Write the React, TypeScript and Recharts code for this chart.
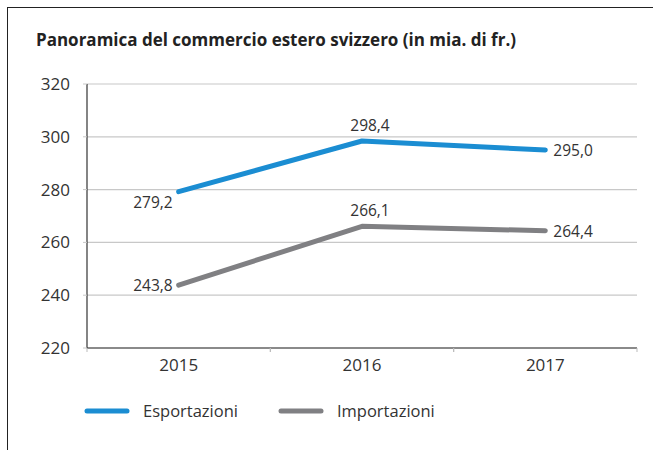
import React from 'react';
import {
  LineChart,
  Line,
  XAxis,
  YAxis,
  CartesianGrid,
  Legend,
  LabelList,
} from 'recharts';

const years = ['2015', '2016', '2017'];
const esportazioni = [279.2, 298.4, 295.0];
const importazioni = [243.8, 266.1, 264.4];
const yTicks = [220, 240, 260, 280, 300, 320];

const BLUE = '#1b8dd2';
const GRAY = '#808083';
const FONT = '"Open Sans", "Noto Sans", sans-serif';

const W = 653;
const H = 450;
const PLOT_LEFT = 87;
const PLOT_RIGHT = 637;
const BAND = (PLOT_RIGHT - PLOT_LEFT) / years.length;

const chartData = years.map((y, i) => ({
  year: y,
  esp: esportazioni[i],
  imp: importazioni[i],
}));

const fmt = (v: number) => v.toFixed(1).replace('.', ',');

// label placement like the original: first point left, middle above, last right
function makeLabel(firstDy: number) {
  return (props: any) => {
    const { x, y, value, index } = props;
    let tx = x;
    let ty = y;
    let anchor: 'start' | 'middle' | 'end' = 'middle';
    if (index === 0) {
      tx = x - 6;
      ty = y + firstDy;
      anchor = 'end';
    } else if (index === years.length - 1) {
      tx = x + 8;
      anchor = 'start';
    } else {
      tx = x + 8;
      ty = y - 16;
    }
    return (
      <text
        x={tx}
        y={ty}
        textAnchor={anchor}
        dominantBaseline="central"
        fontSize={15.5}
        fontFamily={FONT}
        fill="#333"
      >
        {fmt(value)}
      </text>
    );
  };
}

const XTick = (props: any) => {
  const { x, y, payload } = props;
  return (
    <g>
      <line x1={x - BAND / 2} x2={x - BAND / 2} y1={y - 8} y2={y - 4} stroke="#bbb" />
      <line x1={x + BAND / 2} x2={x + BAND / 2} y1={y - 8} y2={y - 4} stroke="#bbb" />
      <text
        x={x}
        y={y + 8}
        textAnchor="middle"
        dominantBaseline="central"
        fontSize={17}
        fontFamily={FONT}
        fill="#333"
      >
        {payload.value}
      </text>
    </g>
  );
};

const LegendContent = () => (
  <div style={{ display: 'flex', alignItems: 'center', fontFamily: FONT, fontSize: 16.5, color: '#333' }}>
    {[
      { name: 'Esportazioni', color: BLUE },
      { name: 'Importazioni', color: GRAY },
    ].map((it) => (
      <div key={it.name} style={{ display: 'flex', alignItems: 'center', marginRight: 40 }}>
        <svg width={46} height={8} style={{ marginRight: 13 }}>
          <line x1={3} y1={4} x2={43} y2={4} stroke={it.color} strokeWidth={5} strokeLinecap="round" />
        </svg>
        <span>{it.name}</span>
      </div>
    ))}
  </div>
);

export default function App() {
  return (
    <div style={{ position: 'fixed', left: 0, top: 0, width: W, height: H, background: '#fff' }}>
      <div
        style={{
          position: 'absolute',
          left: 7,
          top: 7,
          right: 0,
          bottom: 0,
          borderTop: '1.5px solid #222',
          borderLeft: '1.5px solid #222',
        }}
      />
      <div
        style={{
          position: 'absolute',
          left: 36,
          top: 31,
          fontFamily: FONT,
          fontWeight: 700,
          fontSize: 17,
          lineHeight: '17px',
          color: '#222',
          whiteSpace: 'nowrap',
        }}
      >
        Panoramica del commercio estero svizzero (in mia. di fr.)
      </div>
      <LineChart
        width={W}
        height={H}
        data={chartData}
        margin={{ top: 84, right: W - PLOT_RIGHT, left: PLOT_LEFT - 60, bottom: H - 348 - 30 }}
        style={{ position: 'absolute', left: 0, top: 0 }}
      >
        <CartesianGrid vertical={false} stroke="#c8c8c8" strokeWidth={1.2} />
        <XAxis
          dataKey="year"
          height={30}
          padding={{ left: BAND / 2, right: BAND / 2 }}
          axisLine={{ stroke: '#333', strokeWidth: 1.2 }}
          tickLine={false}
          tick={<XTick />}
          interval={0}
        />
        <YAxis
          width={60}
          domain={[220, 320]}
          ticks={yTicks}
          interval={0}
          axisLine={{ stroke: '#333', strokeWidth: 1.2 }}
          tickLine={{ stroke: '#c8c8c8' }}
          tickSize={4}
          tickMargin={13}
          tick={{ fontSize: 17, fontFamily: FONT, fill: '#333' }}
        />
        <Legend
          layout="horizontal"
          verticalAlign="middle"
          align="center"
          content={<LegendContent />}
          wrapperStyle={{ top: 399, left: 84, width: 'auto' }}
        />
        <Line
          type="linear"
          dataKey="esp"
          name="Esportazioni"
          stroke={BLUE}
          strokeWidth={5}
          strokeLinecap="round"
          strokeLinejoin="round"
          dot={false}
          isAnimationActive={false}
        >
          <LabelList dataKey="esp" content={makeLabel(10)} />
        </Line>
        <Line
          type="linear"
          dataKey="imp"
          name="Importazioni"
          stroke={GRAY}
          strokeWidth={5}
          strokeLinecap="round"
          strokeLinejoin="round"
          dot={false}
          isAnimationActive={false}
        >
          <LabelList dataKey="imp" content={makeLabel(0)} />
        </Line>
      </LineChart>
    </div>
  );
}
